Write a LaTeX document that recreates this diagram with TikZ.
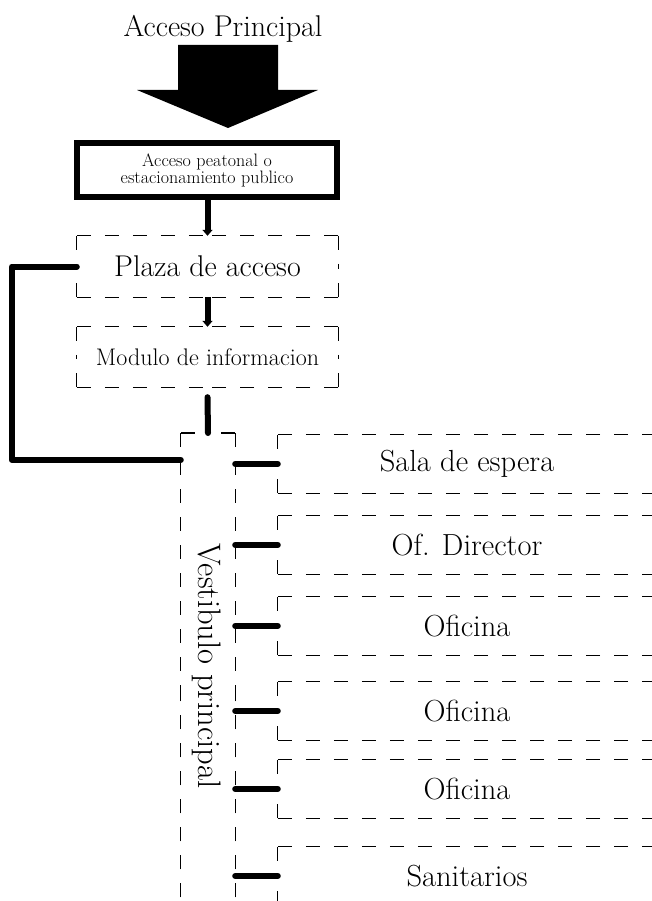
\documentclass[tikz,border=0pt]{standalone}
\usetikzlibrary{arrows.meta}

\tikzset{
  dash line/.style={line width=1.2pt, dash pattern=on 14pt off 14pt},
  area/.style={rectangle, inner sep=0pt},
  room/.style={area, minimum width=378pt, minimum height=58pt, font=\fontsize{30.5}{32}\selectfont},
  link/.style={line width=6pt, line cap=round, line join=round},
  flow/.style={line width=6pt, -{Triangle[width=10pt,length=6pt]}},
}

% dashed sides, drawn from each corner towards the middle
\newcommand{\sketchbox}[1]{%
  \foreach \c/\m in {north west/north,north east/north,north east/east,south east/east,south east/south,south west/south,south west/west,north west/west}%
    \draw[dash line] (#1.\c) -- (#1.\m);%
}

\begin{document}
\begin{tikzpicture}[x=1pt,y=-1pt]
\useasboundingbox (0,0) rectangle (651,901);

\node[font=\fontsize{30}{32}\selectfont, anchor=base] (title) at (223,37) {Acceso Principal};
\fill (178,45) -- (278,45) -- (278,90) -- (318,90) -- (228,128) -- (137,90) -- (178,90) -- cycle;

\node[draw, line width=6pt, minimum width=260pt, minimum height=54pt, inner sep=0pt,
      align=center, font=\fontsize{18}{17}\selectfont] (peatonal) at (207,170)
      {Acceso peatonal o\\estacionamiento publico};

\node[area, minimum width=261pt, minimum height=61pt, font=\fontsize{30}{32}\selectfont] (plaza) at (207.5,266.5) {Plaza de acceso};
\node[area, minimum width=261pt, minimum height=60pt, font=\fontsize{24}{26}\selectfont] (modulo) at (207.5,357) {Modulo de informacion};

\node[area, minimum width=54pt, minimum height=520pt, anchor=north] (vest) at (208,433) {};
\node[rotate=-90, font=\fontsize{32.5}{34}\selectfont] (vestlabel) at (207,666) {Vestibulo principal};

\node[room] (sala) at (467,464) {Sala de espera};
\node[room] (director) at (467,545) {Of. Director};
\node[room] (oficinaA) at (467,626) {Oficina};
\node[room] (oficinaB) at (467,711) {Oficina};
\node[room] (oficinaC) at (467,789) {Oficina};
\node[room] (sanitarios) at (467,876) {Sanitarios};

\foreach \b in {plaza,modulo,vest,sala,director,oficinaA,oficinaB,oficinaC,sanitarios}
  \sketchbox{\b};

% connectors
\draw[flow] (peatonal.south -| plaza.north) -- (plaza.north);
\draw[flow] (plaza.south) -- (modulo.north);
\draw[link] ([yshift=-10pt]modulo.south) -- (vest.north);
\coordinate (loopend) at ([yshift=-27pt]vest.north west);
\draw[link] (plaza.west) -- ++(-65,0) |- (loopend);
\foreach \r in {sala,director,oficinaA,oficinaB,oficinaC,sanitarios}
  \draw[link] (\r.west -| vest.east) -- (\r.west);
\end{tikzpicture}
\end{document}
